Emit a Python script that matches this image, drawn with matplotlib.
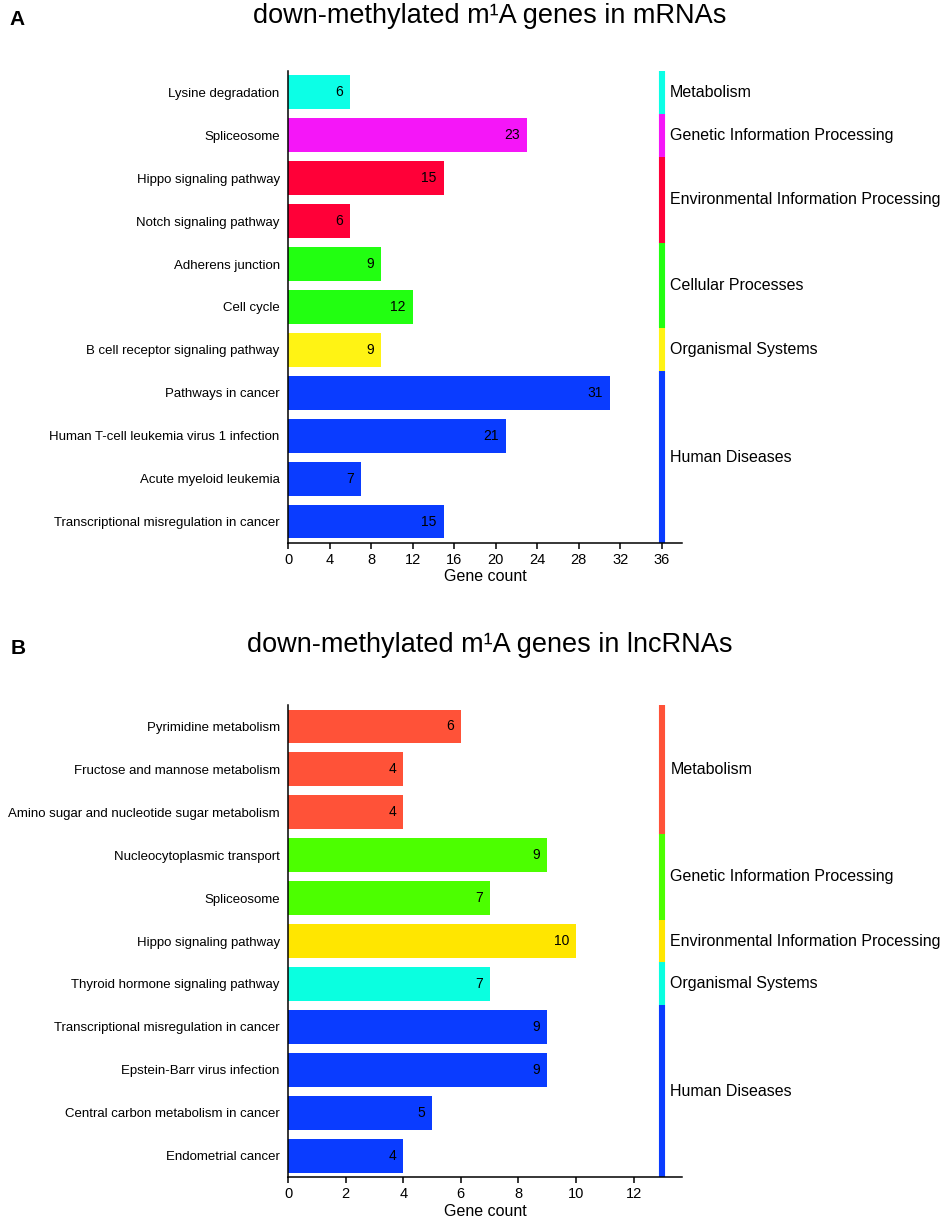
import matplotlib.pyplot as plt

plt.rcParams['font.family'] = ['Liberation Sans', 'DejaVu Sans']

# panel A: down-methylated m1A genes in mRNAs
pathways_a = ["Lysine degradation", "Spliceosome", "Hippo signaling pathway",
              "Notch signaling pathway", "Adherens junction", "Cell cycle",
              "B cell receptor signaling pathway", "Pathways in cancer",
              "Human T-cell leukemia virus 1 infection", "Acute myeloid leukemia",
              "Transcriptional misregulation in cancer"]
counts_a = [6, 23, 15, 6, 9, 12, 9, 31, 21, 7, 15]
groups_a = ["Metabolism", "Genetic Information Processing",
            "Environmental Information Processing", "Environmental Information Processing",
            "Cellular Processes", "Cellular Processes", "Organismal Systems",
            "Human Diseases", "Human Diseases", "Human Diseases", "Human Diseases"]
colors_a = {"Metabolism": "#0cffe6",
            "Genetic Information Processing": "#f516f8",
            "Environmental Information Processing": "#ff0038",
            "Cellular Processes": "#22ff11",
            "Organismal Systems": "#fff314",
            "Human Diseases": "#0a3cff"}
xticks_a = [0, 4, 8, 12, 16, 20, 24, 28, 32, 36]

# panel B: down-methylated m1A genes in lncRNAs
pathways_b = ["Pyrimidine metabolism", "Fructose and mannose metabolism",
              "Amino sugar and nucleotide sugar metabolism", "Nucleocytoplasmic transport",
              "Spliceosome", "Hippo signaling pathway", "Thyroid hormone signaling pathway",
              "Transcriptional misregulation in cancer", "Epstein-Barr virus infection",
              "Central carbon metabolism in cancer", "Endometrial cancer"]
counts_b = [6, 4, 4, 9, 7, 10, 7, 9, 9, 5, 4]
groups_b = ["Metabolism", "Metabolism", "Metabolism",
            "Genetic Information Processing", "Genetic Information Processing",
            "Environmental Information Processing", "Organismal Systems",
            "Human Diseases", "Human Diseases", "Human Diseases", "Human Diseases"]
colors_b = {"Metabolism": "#ff5238",
            "Genetic Information Processing": "#4cff00",
            "Environmental Information Processing": "#ffe600",
            "Organismal Systems": "#0affe0",
            "Human Diseases": "#0a3cff"}
xticks_b = [0, 2, 4, 6, 8, 10, 12]


def draw_panel(ax, pathways, counts, groups, colors, xticks, xmax, strip_x):
    ypos = list(range(len(pathways)))
    ax.barh(ypos, counts, height=0.79, color=[colors[g] for g in groups])
    for y, v in zip(ypos, counts):
        ax.annotate(str(v), (v, y), xytext=(-7, 0), textcoords='offset pixels',
                    ha='right', va='center', fontsize=10)

    # category strip on the right
    order = []
    for g in groups:
        if g not in order:
            order.append(g)
    for g in order:
        idx = [i for i, gg in enumerate(groups) if gg == g]
        y0, y1 = idx[0] - 0.5, idx[-1] + 0.5
        ax.plot([strip_x, strip_x], [y0, y1], color=colors[g], lw=4.4,
                solid_capstyle='butt', clip_on=False)
        ax.annotate(g, (strip_x, (y0 + y1) / 2), xytext=(8, 0), textcoords='offset pixels',
                    ha='left', va='center', fontsize=11.5, annotation_clip=False)

    ax.set_yticks(ypos)
    ax.set_yticklabels(pathways, fontsize=9.5)
    ax.set_ylim(len(pathways) - 0.5, -0.5)
    ax.set_xlim(0, xmax)
    ax.set_xticks(xticks)
    ax.tick_params(axis='x', labelsize=10.5, length=4, width=1.1, pad=3)
    ax.tick_params(axis='y', length=0, pad=6)
    ax.set_xlabel("Gene count", fontsize=11.5, labelpad=2)
    for s in ['top', 'right']:
        ax.spines[s].set_visible(False)
    for s in ['left', 'bottom']:
        ax.spines[s].set_linewidth(1.1)


fig = plt.figure(figsize=(9.48, 12.21), dpi=100)

ax1 = fig.add_axes([0.3038, 0.5553, 0.4156, 0.3866])
draw_panel(ax1, pathways_a, counts_a, groups_a, colors_a, xticks_a, 37.95, 36)

ax2 = fig.add_axes([0.3038, 0.0360, 0.4156, 0.3866])
draw_panel(ax2, pathways_b, counts_b, groups_b, colors_b, xticks_b, 13.68, 13)

fig.text(490 / 948, 1 - 23 / 1221, "down-methylated m¹A genes in mRNAs",
         ha='center', va='baseline', fontsize=19.5)
fig.text(490 / 948, 1 - 652 / 1221, "down-methylated m¹A genes in lncRNAs",
         ha='center', va='baseline', fontsize=19.5)
fig.text(9 / 948, 1 - 25 / 1221, "A", ha='left', va='baseline', fontsize=15, fontweight='bold')
fig.text(11 / 948, 1 - 654 / 1221, "B", ha='left', va='baseline', fontsize=15, fontweight='bold')

fig.savefig("out.png", dpi=100)
